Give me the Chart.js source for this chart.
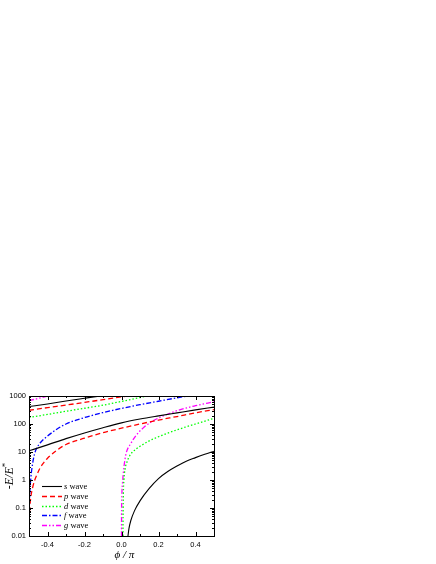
<!DOCTYPE html>
<html>
<head>
<meta charset="utf-8">
<script src="https://cdn.jsdelivr.net/npm/chart.js@4.4.1/dist/chart.umd.min.js"></script>
<style>
  html, body { margin: 0; padding: 0; background: #fff; }
</style>
</head>
<body>
<canvas id="chart" width="436" height="564"></canvas>
<script>
// tick labels
var xTicks = [-0.4, -0.2, 0, 0.2, 0.4];
var xMinor = [-0.5, -0.3, -0.1, 0.1, 0.3, 0.5];
var yTicks = [0.01, 0.1, 1, 10, 100, 1000];

var waves = ["s", "p", "d", "f", "g"];

// s wave (three branches)
var sLowPhi = [0.035, 0.04, 0.05, 0.07, 0.1, 0.15, 0.2, 0.25, 0.3, 0.35, 0.4, 0.45, 0.5];
var sLowE   = [0.01, 0.018, 0.035, 0.079, 0.18, 0.5, 1.12, 2.0, 3.16, 4.7, 6.3, 8.3, 10.7];
var sMidPhi = [-0.5, -0.4, -0.3, -0.2, -0.1, 0, 0.1, 0.2, 0.3, 0.4, 0.5];
var sMidE   = [11, 18, 30, 48, 74, 110, 150, 195, 250, 320, 400];
var sTopPhi = [-0.5, -0.4, -0.3, -0.2, -0.15, -0.1];
var sTopE   = [420, 520, 660, 830, 930, 1040];

// p wave
var pMidPhi = [-0.5, -0.498, -0.495, -0.49, -0.48, -0.47, -0.46, -0.44, -0.42, -0.4, -0.35, -0.3, -0.2, -0.1, 0, 0.1, 0.2, 0.3, 0.4, 0.5];
var pMidE   = [0.01, 0.05, 0.12, 0.25, 0.55, 0.95, 1.4, 2.7, 4.2, 6.0, 11.5, 18.5, 31, 49, 71, 100, 138, 185, 250, 325];
var pTopPhi = [-0.5, -0.4, -0.3, -0.2, -0.1, 0, 0.04];
var pTopE   = [310, 385, 475, 590, 740, 930, 1020];

// d wave
var dLowPhi = [0.008, 0.0085, 0.01, 0.013, 0.02, 0.03, 0.045, 0.06, 0.08, 0.1, 0.15, 0.2, 0.3, 0.4, 0.5];
var dLowE   = [0.01, 0.05, 0.3, 1, 2.6, 4.5, 7.5, 10, 13, 16, 25, 35, 62, 100, 160];
var dTopPhi = [-0.5, -0.4, -0.3, -0.2, -0.1, 0, 0.1, 0.16];
var dTopE   = [170, 220, 285, 365, 470, 640, 880, 1080];

// f wave
var fPhi = [-0.5, -0.4995, -0.498, -0.495, -0.49, -0.48, -0.47, -0.46, -0.44, -0.4, -0.35, -0.3, -0.2, -0.1, 0, 0.1, 0.2, 0.3, 0.36, 0.4];
var fE   = [0.01, 0.03, 0.1, 0.4, 1.2, 4, 8.5, 13, 21, 37, 65, 100, 170, 255, 360, 490, 650, 860, 1000, 1100];

// g wave
var gLowPhi = [0, 0.0005, 0.002, 0.005, 0.01, 0.017, 0.025, 0.05, 0.08, 0.12, 0.17, 0.21, 0.3, 0.4, 0.5];
var gLowE   = [0.01, 0.08, 0.3, 0.7, 1.8, 4.5, 9, 20, 40, 75, 130, 175, 300, 450, 620];
var gTopPhi = [-0.5, -0.45, -0.4, -0.38];
var gTopE   = [680, 820, 990, 1060];

var colors = { s: "#000000", p: "#ff0000", d: "#00ff00", f: "#0000ff", g: "#ff00ff" };
var dashes = { s: [], p: [5, 3], d: [1.5, 2], f: [5, 2, 1.5, 2], g: [5, 2, 1.5, 2, 1.5, 2] };

function pts(xs, ys) {
  return xs.map(function(x, i) { return { x: x, y: ys[i] }; });
}

function branch(w, xs, ys) {
  return {
    label: w + " wave",
    data: pts(xs, ys),
    borderColor: colors[w],
    borderDash: dashes[w],
    borderWidth: w === "s" ? 1.1 : 1.3,
    pointRadius: 0,
    cubicInterpolationMode: "monotone",
    fill: false
  };
}

var datasets = [
  branch("s", sLowPhi, sLowE),
  branch("s", sMidPhi, sMidE),
  branch("s", sTopPhi, sTopE),
  branch("p", pMidPhi, pMidE),
  branch("p", pTopPhi, pTopE),
  branch("d", dLowPhi, dLowE),
  branch("d", dTopPhi, dTopE),
  branch("f", fPhi, fE),
  branch("g", gLowPhi, gLowE),
  branch("g", gTopPhi, gTopE)
];

// frame, inward ticks, axis titles and the legend box
var decor = {
  id: "decor",
  afterDraw: function(chart) {
    var ctx = chart.ctx, a = chart.chartArea;
    var xs = chart.scales.x, ys = chart.scales.y;
    ctx.save();
    ctx.strokeStyle = "#000";
    ctx.lineWidth = 1;
    ctx.setLineDash([]);
    ctx.strokeRect(a.left + 0.5, a.top + 0.5, a.right - a.left, a.bottom - a.top);

    function xTick(v, len) {
      var p = Math.round(xs.getPixelForValue(v)) + 0.5;
      ctx.beginPath();
      ctx.moveTo(p, a.bottom); ctx.lineTo(p, a.bottom - len);
      ctx.moveTo(p, a.top); ctx.lineTo(p, a.top + len);
      ctx.stroke();
    }
    function yTick(v, len) {
      var p = Math.round(ys.getPixelForValue(v)) + 0.5;
      ctx.beginPath();
      ctx.moveTo(a.left, p); ctx.lineTo(a.left + len, p);
      ctx.moveTo(a.right, p); ctx.lineTo(a.right - len, p);
      ctx.stroke();
    }
    xTicks.forEach(function(v) { xTick(v, 4); });
    xMinor.forEach(function(v) { xTick(v, 2); });
    yTicks.forEach(function(v) { yTick(v, 4); });
    yTicks.slice(0, -1).forEach(function(d) {
      for (var k = 2; k < 10; k++) yTick(k * d, 2);
    });

    // x title
    ctx.fillStyle = "#000";
    ctx.textBaseline = "middle";
    ctx.textAlign = "center";
    ctx.font = "italic 11px 'Liberation Serif'";
    ctx.fillText("\u03d5 / \u03c0", (a.left + a.right) / 2 + 3, 555);

    // y title
    ctx.save();
    ctx.translate(10, 476);
    ctx.rotate(-Math.PI / 2);
    ctx.textAlign = "left";
    var parts = [
      { t: "-", f: "12px 'Liberation Serif'", dy: 0 },
      { t: "E/E", f: "italic 12px 'Liberation Serif'", dy: 0 },
      { t: "*", f: "9px 'Liberation Serif'", dy: -4 }
    ];
    var total = 0;
    parts.forEach(function(p) { ctx.font = p.f; total += ctx.measureText(p.t).width; });
    var cx = -total / 2;
    parts.forEach(function(p) {
      ctx.font = p.f;
      ctx.fillText(p.t, cx, p.dy);
      cx += ctx.measureText(p.t).width;
    });
    ctx.restore();

    // legend
    var lx = a.left + 13, ly = a.top + 90;
    waves.forEach(function(w, i) {
      var y = Math.round(ly + i * 9.75) + 0.5;
      ctx.strokeStyle = colors[w];
      ctx.lineWidth = w === "s" ? 1.1 : 1.3;
      ctx.setLineDash(dashes[w]);
      ctx.beginPath();
      ctx.moveTo(lx, y); ctx.lineTo(lx + 20, y);
      ctx.stroke();
      ctx.setLineDash([]);
      ctx.fillStyle = "#000";
      ctx.textAlign = "left";
      ctx.font = "italic 8.5px 'Liberation Serif'";
      ctx.fillText(w, lx + 22, y);
      var wd = ctx.measureText(w).width;
      ctx.font = "8.5px 'Liberation Serif'";
      ctx.fillText(" wave", lx + 22 + wd, y);
    });
    ctx.restore();
  }
};

Chart.defaults.color = "#000";

new Chart(document.getElementById("chart").getContext("2d"), {
  type: "line",
  data: { datasets: datasets },
  options: {
    responsive: false,
    animation: false,
    layout: { padding: { left: 0, right: 222, top: 396, bottom: 0 } },
    plugins: { legend: { display: false }, tooltip: { enabled: false } },
    scales: {
      x: {
        type: "linear",
        min: -0.5,
        max: 0.5,
        grid: { display: false, drawTicks: false },
        border: { display: false },
        afterBuildTicks: function(s) { s.ticks = xTicks.map(function(v) { return { value: v }; }); },
        afterFit: function(s) { s.height = 28; },
        ticks: {
          padding: 4,
          font: { family: "'Liberation Sans'", size: 7.5 },
          callback: function(v) { return v.toFixed(1); }
        }
      },
      y: {
        type: "logarithmic",
        min: 0.01,
        max: 1000,
        grid: { display: false, drawTicks: false },
        border: { display: false },
        afterBuildTicks: function(s) { s.ticks = yTicks.map(function(v) { return { value: v }; }); },
        afterFit: function(s) { s.width = 29; },
        ticks: {
          padding: 3,
          font: { family: "'Liberation Sans'", size: 7.5 },
          callback: function(v) { return String(v); }
        }
      }
    }
  },
  plugins: [decor]
});
</script>
</body>
</html>
